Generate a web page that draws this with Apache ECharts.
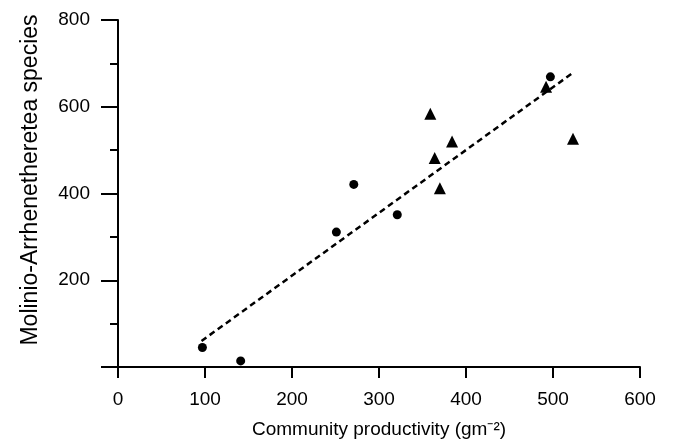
<!DOCTYPE html>
<html>
<head>
<meta charset="utf-8">
<script src="https://cdn.jsdelivr.net/npm/echarts@6/dist/echarts.min.js"></script>
<style>
html, body { margin: 0; padding: 0; background: #fff; }
#my { width: 674px; height: 444px; }
</style>
</head>
<body>
<div id="my"></div>
<script>
// 数据
var circleX = [97, 141, 251, 271, 321, 497];
var circleY = [45, 14, 311, 421, 351, 669];
var triX = [359, 364, 370, 384, 492, 523];
var triY = [584, 482, 412, 520, 646, 526];
// 回归线
var lineX = [96, 522];
var lineY = [60, 677];
var xTicks = [0, 100, 200, 300, 400, 500, 600];
var yTicks = [200, 400, 600, 800];

function pairs(xs, ys) {
	var out = [];
	for (var i = 0; i < xs.length; i++) {
		out.push([xs[i], ys[i]]);
	}
	return out;
}

var font = 'Liberation Sans, Arial, sans-serif';

var myChart = echarts.init(document.getElementById('my'));

var option = {
	animation: false,
	backgroundColor: '#fff',
	grid: { left: 118, right: 34, top: 20, bottom: 77 },
	xAxis: {
		type: 'value',
		min: 0,
		max: 600,
		interval: 100,
		name: 'Community productivity (gm\u207B\u00B2)',
		nameLocation: 'middle',
		nameGap: 53,
		nameTextStyle: { color: '#000', fontSize: 19, fontFamily: font },
		axisLine: { show: true, lineStyle: { color: '#000', width: 2 } },
		axisTick: { show: true, length: 11, lineStyle: { color: '#000', width: 2 } },
		axisLabel: {
			color: '#000', fontSize: 19, fontFamily: font, margin: 23,
			formatter: function(v) { return xTicks.indexOf(v) >= 0 ? v : ''; }
		},
		splitLine: { show: false }
	},
	yAxis: {
		type: 'value',
		min: 0,
		max: 800,
		interval: 200,
		name: 'Molinio-Arrhenetheretea species',
		nameLocation: 'middle',
		nameGap: 76,
		nameTextStyle: { color: '#000', fontSize: 23, fontFamily: font, padding: [0, 0, 0, 27] },
		axisLine: { show: true, lineStyle: { color: '#000', width: 2 } },
		axisTick: { show: true, length: 17, lineStyle: { color: '#000', width: 2 } },
		minorTick: { show: true, splitNumber: 2, length: 8, lineStyle: { color: '#000', width: 2 } },
		axisLabel: {
			color: '#000', fontSize: 19, fontFamily: font, margin: 28,
			formatter: function(v) { return yTicks.indexOf(v) >= 0 ? v : ''; }
		},
		splitLine: { show: false }
	},
	series: [{
		type: 'line',
		data: pairs(lineX, lineY),
		symbol: 'none',
		lineStyle: { color: '#000', width: 2.5, type: [6, 4] },
		z: 1
	}, {
		type: 'scatter',
		data: pairs(circleX, circleY),
		symbol: 'circle',
		symbolSize: 9,
		itemStyle: { color: '#000', opacity: 1 },
		z: 3
	}, {
		type: 'scatter',
		data: pairs(triX, triY),
		symbol: 'triangle',
		symbolSize: 12,
		itemStyle: { color: '#000', opacity: 1 },
		z: 3
	}]
};

myChart.setOption(option);
</script>
</body>
</html>
